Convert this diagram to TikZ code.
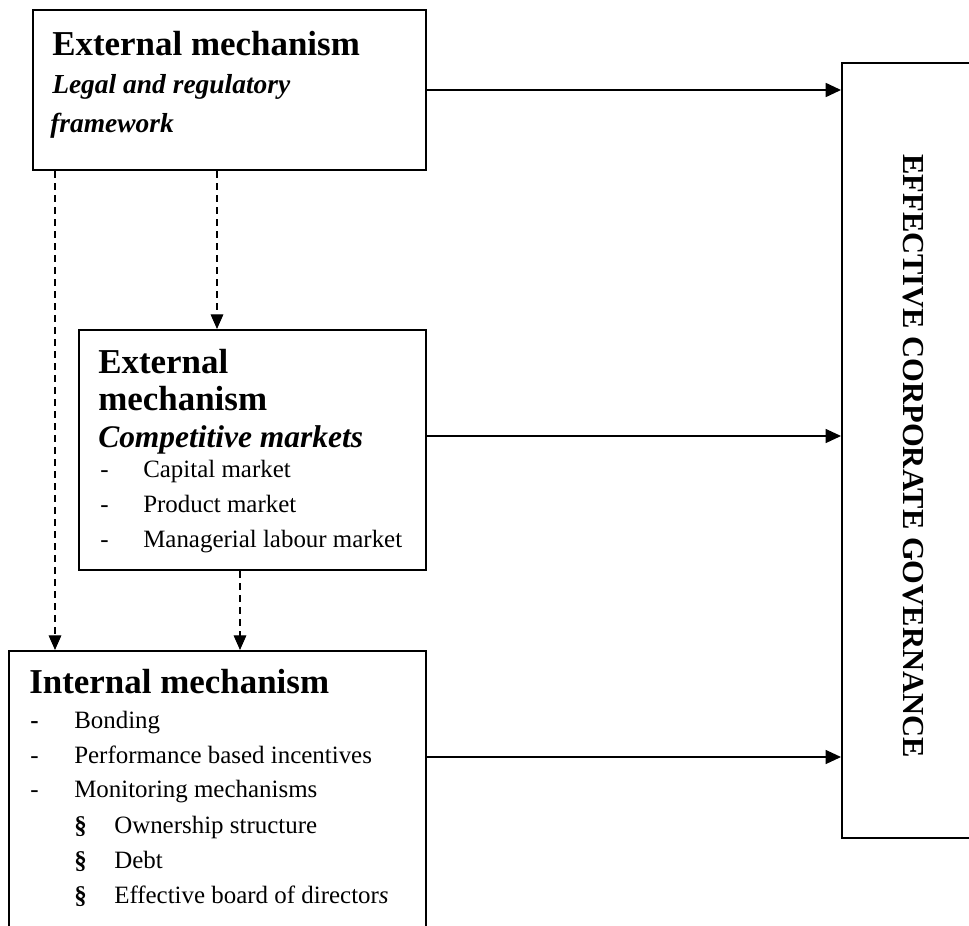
\documentclass[tikz,border=0pt]{standalone}
\usepackage{fontspec}
\setmainfont{Liberation Serif}
\usetikzlibrary{arrows.meta}

% font sizes
\newcommand\mechtitle{\fontsize{26.2}{30}\selectfont\bfseries}
\newcommand\mechsub{\fontsize{20.6}{24}\selectfont\bfseries\itshape}
\newcommand\mechsubb{\fontsize{23.6}{27}\selectfont\bfseries\itshape}
\newcommand\mechitem{\fontsize{18.7}{22}\selectfont}
\newcommand\govfont{\fontsize{22.9}{26}\selectfont\bfseries}

\tikzset{
  box/.style={draw, line width=1.5pt, rectangle, inner sep=0pt, anchor=north west},
  txt/.style={inner sep=0pt, anchor=base west},
  flow/.style={line width=0.9pt, -{Triangle[length=11.5pt, width=10.5pt]}},
  flowthick/.style={flow, line width=1.3pt},
  link/.style={line width=0.9pt, dash pattern=on 5.25pt off 3.75pt,
               -{Triangle[length=11pt, width=9.5pt]}},
}

\begin{document}
\begin{tikzpicture}[x=0.75pt, y=-0.75pt]
\path[use as bounding box, clip] (0,0) rectangle (969,925);

% boxes
\node[box, minimum width=294.75pt, minimum height=120pt] (b1) at (32,9) {};
\node[box, minimum width=260.25pt, minimum height=180pt] (b2) at (78,329) {};
\node[box, minimum width=312.75pt, minimum height=225pt] (b3) at (8,650) {};
\node[box, minimum width=112.5pt, minimum height=581.25pt] (b4) at (841,62) {};

% legal and regulatory framework
\node[txt, font=\mechtitle] (t1) at (52,55) {External mechanism};
\node[txt, font=\mechsub] (t1a) at (52,93) {Legal and regulatory};
\node[txt, font=\mechsub] (t1b) at (50,132) {framework};

% competitive markets
\node[txt, font=\mechtitle] (t2) at (98,373) {External};
\node[txt, font=\mechtitle] (t2a) at (98,410) {mechanism};
\node[txt, font=\mechsubb] (t2b) at (98,447) {Competitive markets};
\node[txt, font=\mechitem] (d21) at (100,477) {-};
\node[txt, font=\mechitem] (i21) at (143,477) {Capital market};
\node[txt, font=\mechitem] (d22) at (100,512) {-};
\node[txt, font=\mechitem] (i22) at (143,512) {Product market};
\node[txt, font=\mechitem] (d23) at (100,547) {-};
\node[txt, font=\mechitem] (i23) at (143,547) {Managerial labour market};

% internal mechanism
\node[txt, font=\mechtitle] (t3) at (29,693) {Internal mechanism};
\node[txt, font=\mechitem\bfseries] (d31) at (30,728) {-};
\node[txt, font=\mechitem] (i31) at (74,728) {Bonding};
\node[txt, font=\mechitem] (d32) at (30,763) {-};
\node[txt, font=\mechitem] (i32) at (74,763) {Performance based incentives};
\node[txt, font=\mechitem] (d33) at (30,797) {-};
\node[txt, font=\mechitem] (i33) at (74,797) {Monitoring mechanisms};
\node[txt, font=\mechitem\bfseries] (s34) at (74,833) {§};
\node[txt, font=\mechitem] (i34) at (114,833) {Ownership structure};
\node[txt, font=\mechitem\bfseries] (s35) at (74,868) {§};
\node[txt, font=\mechitem] (i35) at (114,868) {Debt};
\node[txt, font=\mechitem\bfseries] (s36) at (74,903) {§};
\node[txt, font=\mechitem] (i36) at (114,903) {Effective board of director\textit{s}};

% outcome
\node[inner sep=0pt, rotate=-90, font=\govfont] (gov) at (913,456)
  {EFFECTIVE CORPORATE GOVERNANCE};

% connector positions
\coordinate (x1) at (55,0);
\coordinate (x2) at (217,0);
\coordinate (x3) at (240,0);
\coordinate (y2) at (0,436);
\coordinate (y3) at (0,757);

% solid arrows into the outcome box
\draw[flowthick] (b1.east) -- (b4.west |- b1.east);
\draw[flow] (b2.east |- y2) -- (b4.west |- y2);
\draw[flow] (b3.east |- y3) -- (b4.west |- y3);

% dashed influence links
\draw[link] (b1.south -| x1) -- (b3.north -| x1);
\draw[link] (b1.south -| x2) -- (b2.north -| x2);
\draw[link] (b2.south -| x3) -- (b3.north -| x3);
\end{tikzpicture}
\end{document}
